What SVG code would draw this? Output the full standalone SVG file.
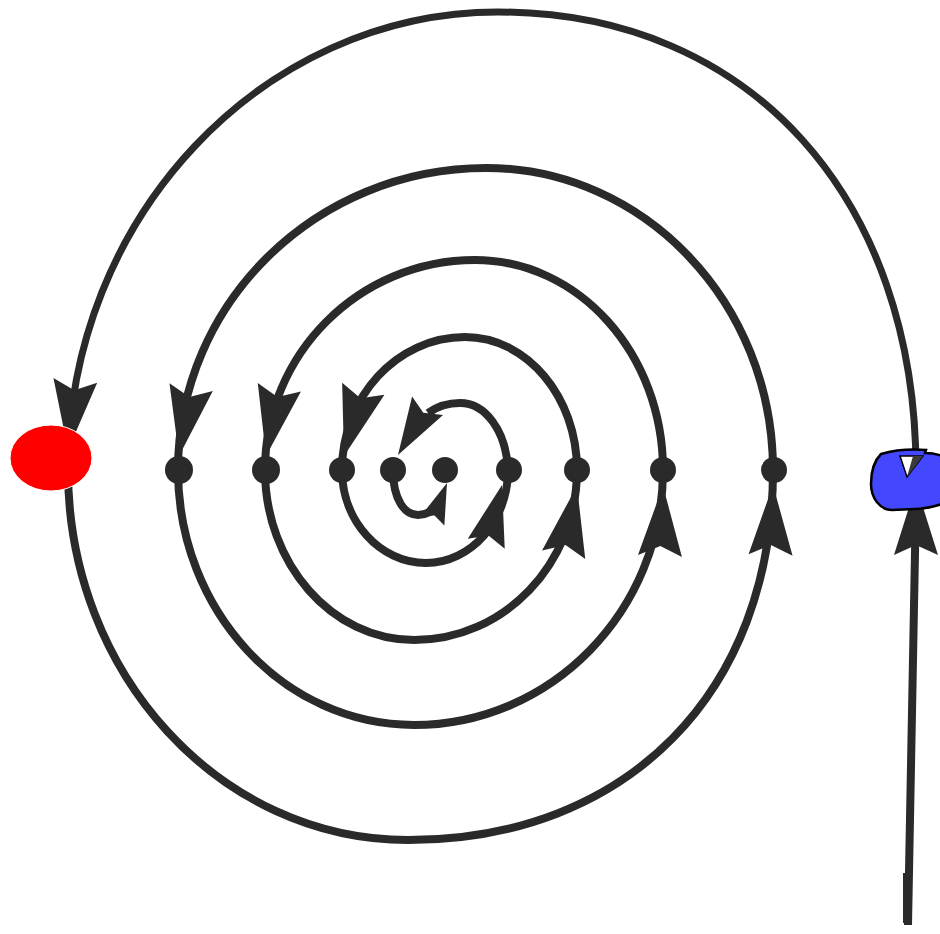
<svg xmlns="http://www.w3.org/2000/svg" xmlns:xlink="http://www.w3.org/1999/xlink" width="940" height="934" viewBox="0 0 940 934">
<style>
.arc{fill:none;stroke:#2b2a2a;stroke-width:8;stroke-linecap:butt}
.ah{fill:#2b2a2a}
.dot{fill:#2b2a2a}
</style>
<defs>
<path id="ah" d="M0,0 L22,70 L0,60 L-22,70 Z"/>
</defs>
<rect width="940" height="934" fill="#ffffff"/>
<g id="connectors">
<path class="arc" d="M908,925 L916,500"/>
<rect x="903" y="873" width="9" height="50" fill="#2b2a2a"/>
<path class="arc" style="stroke-width:7" d="M916,470 C916,200 752,12 498,12 C262,12 68,218 68,470"/>
<path class="arc" d="M68,470 C68,674 220,840 408,840 C627,840 773,692 773,470"/>
<path class="arc" d="M773,470 C773,303 644,168 486,168 C316,168 178,303 178,470"/>
<path class="arc" d="M178,470 C178,611 284,725 414,725 C551,725 663,611 663,470"/>
<path class="arc" d="M663,470 C663,354 579,260 475,260 C359,260 265,354 265,470"/>
<path class="arc" d="M265,470 C265,564 332,640 414,640 C504,640 577,564 577,470"/>
<path class="arc" d="M577,470 C577,397 527,337 465,337 C397,337 342,397 342,470"/>
<path class="arc" d="M342,470 C342,521 380,563 426,563 C471,563 508,521 508,470"/>
<path class="arc" d="M508,470 C506,430 485,403 460,403 C445,403 435,408 428,413"/>
<path class="arc" d="M393,470 C393,500 405,515 418,515 C428,515 435,510 440,500"/>
<use href="#ah" class="ah" transform="translate(68,450) rotate(-174)"/>
<use href="#ah" class="ah" transform="translate(179,456) rotate(-170)"/>
<use href="#ah" class="ah" transform="translate(266,456) rotate(-169)"/>
<use href="#ah" class="ah" transform="translate(344,456) rotate(-164)"/>
<use href="#ah" class="ah" transform="translate(398,455) rotate(-149) scale(0.82)"/>
<use href="#ah" class="ah" transform="translate(773,485) rotate(2)"/>
<use href="#ah" class="ah" transform="translate(663,486) rotate(2.5)"/>
<use href="#ah" class="ah" transform="translate(577,486) rotate(11)"/>
<use href="#ah" class="ah" transform="translate(502,485) rotate(15) scale(0.87)"/>
<use href="#ah" class="ah" transform="translate(447,483) rotate(21) scale(0.58)"/>
<use href="#ah" class="ah" transform="translate(916,485)"/>
</g>
<g id="dot1"><circle class="dot" cx="179" cy="470" r="14"/></g>
<g id="dot2"><circle class="dot" cx="266" cy="470" r="14"/></g>
<g id="dot3"><circle class="dot" cx="342" cy="470" r="13"/></g>
<g id="dot4"><circle class="dot" cx="393" cy="470" r="13"/></g>
<g id="dot5"><circle class="dot" cx="445" cy="470" r="13"/></g>
<g id="dot6"><circle class="dot" cx="509" cy="470" r="13"/></g>
<g id="dot7"><circle class="dot" cx="577" cy="470" r="13"/></g>
<g id="dot8"><circle class="dot" cx="663" cy="470" r="13"/></g>
<g id="dot9"><circle class="dot" cx="774" cy="470" r="13"/></g>
<g id="red"><ellipse cx="51" cy="458" rx="41" ry="33" fill="#ff0000" stroke="#ffffff" stroke-width="1"/></g>
<g id="blue">
<path d="M881,454 C895,450 912,449 926,450 L925,453 C932,453 937,454 942,456 L942,504 C932,507 925,509 915,509 L892,510 C880,510 871,498 871,484 C871,470 875,460 881,454 Z" fill="#4348ff" stroke="#000000" stroke-width="2.5"/>
<path d="M900,456 L923,456 L907,477 Z" fill="#ffffff" stroke="#000000" stroke-width="1.5"/>
<path d="M913,456 L923,456 L907,477 Z" fill="#3a3a3a"/>
</g>
</svg>
